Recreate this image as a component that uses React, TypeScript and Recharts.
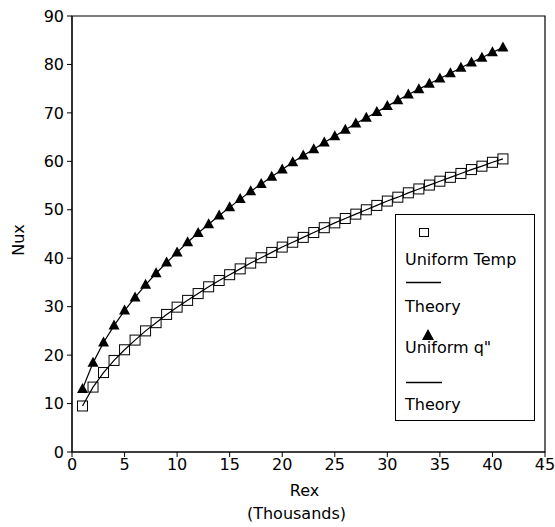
import { LineChart, Line, XAxis, YAxis, ReferenceArea, Label } from "recharts";

// Rex in thousands
const rex = [1, 2, 3, 4, 5, 6, 7, 8, 9, 10, 11, 12, 13, 14, 15, 16, 17, 18, 19, 20, 21, 22, 23, 24, 25, 26, 27, 28, 29, 30, 31, 32, 33, 34, 35, 36, 37, 38, 39, 40, 41];

const uniformTemp = [9.5, 13.4, 16.4, 18.9, 21.1, 23.1, 25.0, 26.7, 28.4, 29.9, 31.3, 32.7, 34.1, 35.4, 36.6, 37.8, 39.0, 40.1, 41.2, 42.3, 43.3, 44.3, 45.3, 46.3, 47.3, 48.2, 49.1, 50.0, 50.9, 51.8, 52.6, 53.5, 54.3, 55.1, 55.9, 56.7, 57.5, 58.3, 59.0, 59.8, 60.5];

const uniformQ = [13.0, 18.4, 22.6, 26.1, 29.2, 31.9, 34.5, 36.9, 39.1, 41.2, 43.3, 45.2, 47.0, 48.8, 50.5, 52.2, 53.8, 55.3, 56.8, 58.3, 59.8, 61.2, 62.5, 63.9, 65.2, 66.5, 67.8, 69.0, 70.2, 71.4, 72.6, 73.8, 74.9, 76.0, 77.1, 78.2, 79.3, 80.4, 81.4, 82.5, 83.5];

const xTicks = [0, 5, 10, 15, 20, 25, 30, 35, 40, 45];
const yTicks = [0, 10, 20, 30, 40, 50, 60, 70, 80, 90];

const data = rex.map((x, i) => ({
  x,
  temp: uniformTemp[i],
  tempTheory: uniformTemp[i],
  q: uniformQ[i],
  qTheory: uniformQ[i],
}));

const FONT = "'DejaVu Sans', Arial, sans-serif";

function SquareDot(props: any) {
  const { cx, cy, index } = props;
  if (cx == null || cy == null) return null;
  return <rect key={`sq-${index}`} x={cx - 5} y={cy - 5} width={10} height={10} fill="none" stroke="#000" strokeWidth={1} />;
}

function TriangleDot(props: any) {
  const { cx, cy, index } = props;
  if (cx == null || cy == null) return null;
  return (
    <polygon
      key={`tr-${index}`}
      points={`${cx},${cy - 6} ${cx - 5.5},${cy + 4} ${cx + 5.5},${cy + 4}`}
      fill="#000"
    />
  );
}

function LegendBox() {
  const txt = { fontFamily: FONT, fontSize: 16, color: "#000", lineHeight: "18px", whiteSpace: "nowrap" as const };
  return (
    <div style={{ position: "absolute", left: 395, top: 214, width: 140, height: 207, border: "1.5px solid #000", boxSizing: "border-box", background: "#fff" }}>
      <svg width={140} height={207} style={{ position: "absolute", left: 0, top: 0 }}>
        <rect x={23.5} y={13.5} width={9} height={8} fill="none" stroke="#000" />
        <line x1={10} x2={45} y1={67.5} y2={67.5} stroke="#000" strokeWidth={1.3} />
        <polygon points="32,114 26,125 38,125" fill="#000" />
        <line x1={10} x2={46} y1={167.5} y2={167.5} stroke="#000" strokeWidth={1.3} />
      </svg>
      <div style={{ ...txt, position: "absolute", left: 9, top: 36 }}>Uniform Temp</div>
      <div style={{ ...txt, position: "absolute", left: 9, top: 83 }}>Theory</div>
      <div style={{ ...txt, position: "absolute", left: 9, top: 124 }}>Uniform q"</div>
      <div style={{ ...txt, position: "absolute", left: 9, top: 181 }}>Theory</div>
    </div>
  );
}

export default function App() {
  return (
    <div style={{ position: "absolute", left: 0, top: 0, width: 555, height: 527, background: "#fff" }}>
      <LineChart width={555} height={527} data={data} margin={{ top: 16, right: 10, bottom: 35, left: 8 }}>
        <XAxis
          dataKey="x"
          type="number"
          domain={[0, 45]}
          ticks={xTicks}
          interval={0}
          height={40}
          tickSize={5}
          tickMargin={2}
          stroke="#000"
          tick={{ fill: "#000", fontSize: 16, fontFamily: FONT }}
        >
          <Label
            content={({ viewBox }: any) => {
              const cx = viewBox.x + viewBox.width / 2 - 4;
              return (
                <g fontFamily={FONT} fontSize={16} fill="#000" textAnchor="middle">
                  <text x={cx} y={496}>Rex</text>
                  <text x={cx - 8} y={519}>(Thousands)</text>
                </g>
              );
            }}
          />
        </XAxis>
        <YAxis
          type="number"
          domain={[0, 90]}
          ticks={yTicks}
          interval={0}
          width={64}
          tickSize={5}
          tickMargin={3}
          stroke="#000"
          tick={{ fill: "#000", fontSize: 16, fontFamily: FONT }}
        >
          <Label
            content={({ viewBox }: any) => {
              const x = 24;
              const y = viewBox.y + viewBox.height / 2 + 6;
              return (
                <text x={x} y={y} transform={`rotate(-90 ${x} ${y})`} textAnchor="middle" fontFamily={FONT} fontSize={16} fill="#000">
                  Nux
                </text>
              );
            }}
          />
        </YAxis>
        <ReferenceArea x1={0} x2={45} y1={0} y2={90} fill="none" stroke="#000" strokeWidth={1.2} ifOverflow="extendDomain" />
        <Line dataKey="tempTheory" stroke="#000" strokeWidth={1.2} dot={false} isAnimationActive={false} />
        <Line dataKey="temp" stroke="none" dot={<SquareDot />} activeDot={false} isAnimationActive={false} />
        <Line dataKey="qTheory" stroke="#000" strokeWidth={1.2} dot={false} isAnimationActive={false} />
        <Line dataKey="q" stroke="none" dot={<TriangleDot />} activeDot={false} isAnimationActive={false} />
      </LineChart>
      <LegendBox />
    </div>
  );
}
